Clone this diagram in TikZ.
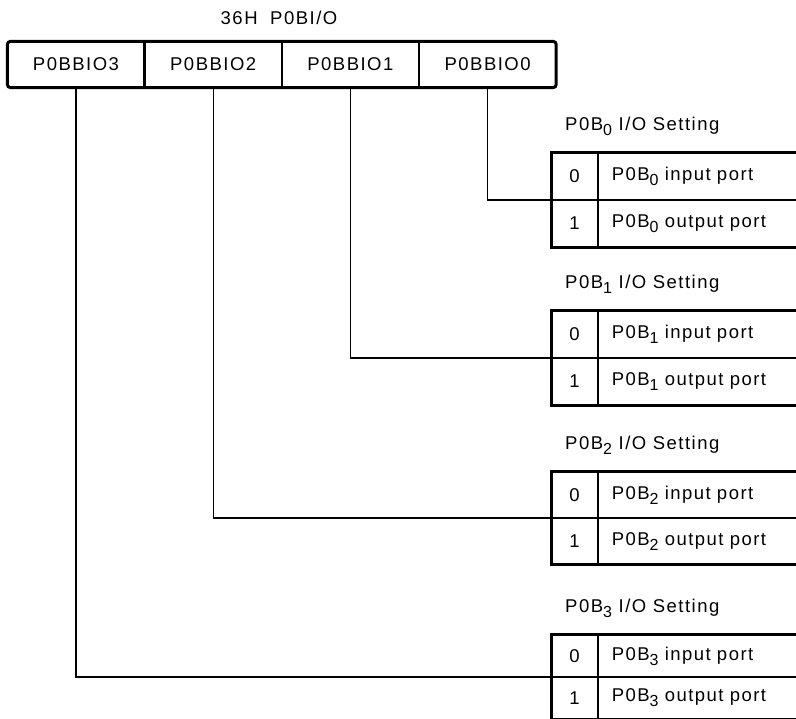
\documentclass[tikz,border=0pt]{standalone}
\usepackage{fontspec}
\setmainfont{Liberation Sans}[LetterSpace=8]
\usetikzlibrary{positioning}
\newcommand{\regfont}{\fontsize{18.5}{21}\selectfont}
\newcommand{\pidx}[1]{\raisebox{-5pt}{\fontsize{16}{16}\selectfont#1}}
\tikzset{
  regcell/.style={rectangle, draw, line width=1.2pt, minimum width=136pt,
                  minimum height=45pt, inner sep=0pt, font=\regfont},
  bitcell/.style={rectangle, draw, line width=1.2pt, minimum width=46pt,
                  inner sep=0pt, font=\regfont},
  desccell/.style={rectangle, draw, line width=1.2pt, minimum width=240pt,
                   inner xsep=13pt, inner ysep=0pt, text width=214pt,
                   align=left, font=\regfont},
  caption/.style={anchor=base west, inner sep=0pt, font=\regfont},
  frame/.style={line width=3pt},
  wire/.style={line width=1.3pt},
}

\begin{document}
\begin{tikzpicture}[x=1pt,y=-1pt]
\useasboundingbox (0,0) rectangle (796,719);
\clip (0,0) rectangle (796,719);
% register 36H
\node[regcell] (reg3) at (76,64.5) {P0BBIO3};
\node[regcell, right=0pt of reg3] (reg2) {P0BBIO2};
\node[regcell, right=0pt of reg2] (reg1) {P0BBIO1};
\node[regcell, right=0pt of reg1] (reg0) {P0BBIO0};
\draw[frame, rounded corners=3pt] (reg3.north west) rectangle (reg0.south east);
\node[font=\regfont] (title) at (279,18) {36H\hspace{6pt} P0BI/O};
% one setting table per bit
\foreach \k/\ym/\rh in {0/200/46,1/358/46,2/518/45,3/677/41} {
  \node[bitcell, minimum height=\rh pt, anchor=south west] (zero\k) at (551,\ym) {0};
  \node[bitcell, minimum height=\rh pt, below=0pt of zero\k] (one\k) {1};
  \node[desccell, minimum height=\rh pt, right=0pt of zero\k] (in\k) {P0B\pidx{\k} input port};
  \node[desccell, minimum height=\rh pt, right=0pt of one\k] (out\k) {P0B\pidx{\k} output port};
  \draw[frame] (in\k.north east) -- (zero\k.north west) -- (one\k.south west) -- (out\k.south east);
  \node[caption, above right=17pt and 14pt of zero\k.north west] (cap\k) {P0B\pidx{\k} I/O Setting};
  \draw[wire] (reg\k.south) |- (zero\k.south west);
}
\end{tikzpicture}
\end{document}
